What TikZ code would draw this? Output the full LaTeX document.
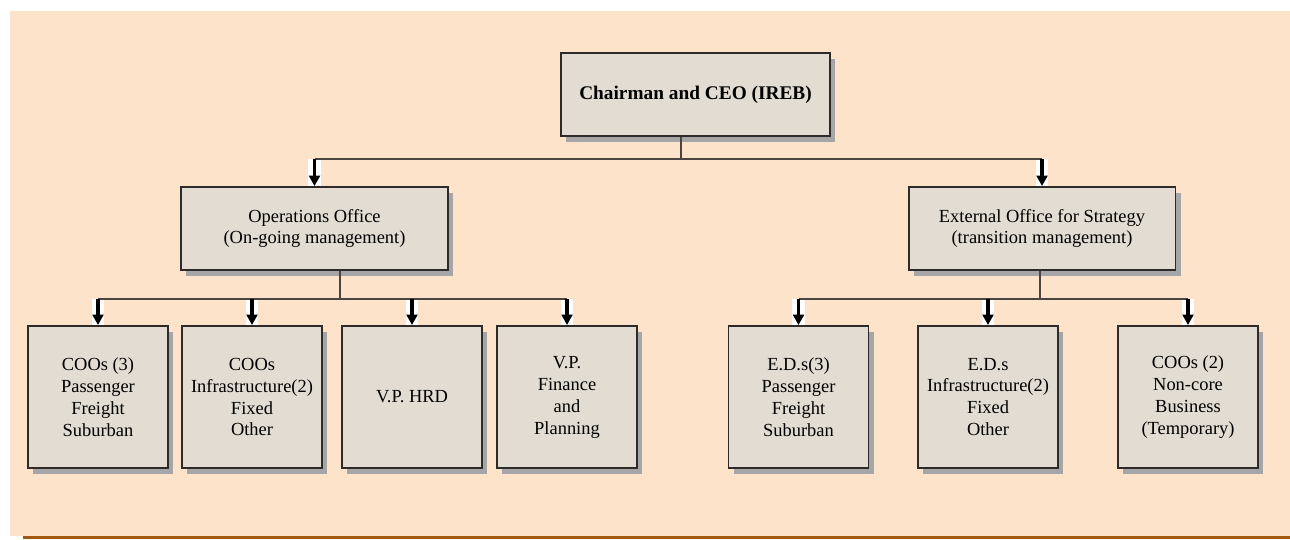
\documentclass[tikz,border=0pt]{standalone}
\usepackage{fontspec}
\setmainfont{Liberation Serif}
\usetikzlibrary{arrows.meta,shadows}

\definecolor{peach}{HTML}{FDE3C9}
\definecolor{boxfill}{HTML}{E2DCD3}
\definecolor{boxline}{HTML}{2D2A28}
\definecolor{shade}{HTML}{A6A6A8}
\definecolor{wire}{HTML}{4B4441}
\definecolor{rule}{HTML}{A4570F}

\begin{document}
\begin{tikzpicture}[x=0.02cm,y=-0.02cm,
      font=\fontsize{10.5}{12.5}\selectfont]
    \tikzstyle{post}=[draw=boxline,line width=1.1pt,fill=boxfill,
      align=center,inner sep=2pt,
      drop shadow={shadow xshift=3pt,shadow yshift=-3.4pt,fill=shade,opacity=1}]
    \tikzstyle{head}=[post,minimum width=5.38cm,minimum height=1.66cm]
    \tikzstyle{office}=[post,minimum width=5.34cm,minimum height=1.66cm]
    \tikzstyle{unit}=[post,minimum width=2.8cm,minimum height=2.84cm]
    \tikzstyle{link}=[draw=wire,line width=0.85pt]
    \tikzstyle{halo}=[draw=white,line width=7.2pt]
    \tikzstyle{feed}=[-{Triangle[width=6.2pt,length=6pt]},line width=1.8pt,draw=black]

    % page
    \useasboundingbox (0,0) rectangle (1290,539);
    \fill[peach] (10,11) rectangle (1290,536);
    \draw[rule,line width=1.2pt] (23,537.5) -- (1290,537.5);

    \node[head,font=\fontsize{11}{13}\selectfont\bfseries] (ceo) at (695.5,94.5) {Chairman and CEO (IREB)};

    \node[office] (ops) at (314.5,228.5) {Operations Office\\(On-going management)};
    \node[office] (ext) at (1042,228.5) {External Office for Strategy\\(transition management)};

    \node[unit] (coo)     at (98,397)   {COOs (3)\\Passenger\\Freight\\Suburban};
    \node[unit] (infra)   at (252,397)  {COOs\\Infrastructure(2)\\Fixed\\Other};
    \node[unit] (hrd)     at (412,397)  {V.P. HRD};
    \node[unit] (fin)     at (567,397)  {V.P.\\Finance\\and\\Planning};
    \node[unit] (eds)     at (798.5,397) {E.D.s(3)\\Passenger\\Freight\\Suburban};
    \node[unit] (edinfra) at (988,397)  {E.D.s\\Infrastructure(2)\\Fixed\\Other};
    \node[unit] (noncore) at (1188,397) {COOs (2)\\Non-core\\Business\\(Temporary)};

    \coordinate (top)    at (681,159);
    \coordinate (opsbus) at (340,299);
    \coordinate (extbus) at (1040,299);

    % white stripes behind the arrows
    \foreach \n/\bus in {ops/top,ext/top,coo/opsbus,infra/opsbus,hrd/opsbus,fin/opsbus,
                         eds/extbus,edinfra/extbus,noncore/extbus}
      \draw[halo] (\n.north |- \bus) -- (\n.north);

    \draw[link] (ceo.south -| top) -- (top);
    \draw[link] (ops.north |- top) -- (ext.north |- top);
    \draw[link] (ops.south -| opsbus) -- (opsbus);
    \draw[link] (coo.north |- opsbus) -- (fin.north |- opsbus);
    \draw[link] (ext.south -| extbus) -- (extbus);
    \draw[link] (eds.north |- extbus) -- (noncore.north |- extbus);

    \foreach \n/\bus in {ops/top,ext/top,coo/opsbus,infra/opsbus,hrd/opsbus,fin/opsbus,
                         eds/extbus,edinfra/extbus,noncore/extbus}
      \draw[feed] (\n.north |- \bus) -- (\n.north);
\end{tikzpicture}
\end{document}
